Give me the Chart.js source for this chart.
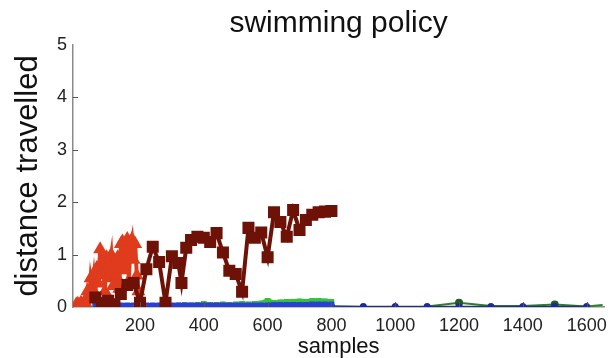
<!DOCTYPE html>
<html>
<head>
<meta charset="utf-8">
<script src="https://cdn.jsdelivr.net/npm/chart.js@4.4.1/dist/chart.umd.min.js"></script>
<style>
  html, body { margin: 0; padding: 0; background: #fff; }
  #wrap { width: 615px; height: 358px; }
</style>
</head>
<body>
<div id="wrap"><canvas id="c" width="615" height="358"></canvas></div>
<script>
// ---- data ----
const xTickValues = [200, 400, 600, 800, 1000, 1200, 1400, 1600];
const yTickValues = [0, 1, 2, 3, 4, 5];

const darkRedSamples = [60, 80, 100, 120, 140, 160, 180, 200, 220, 240, 260, 280, 300, 320, 330, 345, 360, 380, 400, 420, 440, 460, 480, 500, 520, 540, 560, 580, 600, 620, 640, 660, 680, 700, 720, 740, 760, 780, 800];
const darkRedValues  = [0.18, 0.07, 0.12, 0.05, 0.25, 0.42, 0.46, 0.08, 0.72, 1.15, 0.86, 0.08, 0.97, 0.84, 0.46, 1.13, 1.28, 1.34, 1.32, 1.24, 1.41, 1.04, 0.69, 0.63, 0.29, 1.51, 1.32, 1.42, 0.95, 1.81, 1.62, 1.34, 1.85, 1.47, 1.66, 1.76, 1.81, 1.82, 1.83];

const redSamples = [0, 5, 10, 15, 20, 25, 30, 35, 40, 45, 50, 55, 60, 65, 70, 75, 80, 85, 90, 95, 100, 105, 110, 115, 120, 125, 130, 135, 140, 145, 150, 155, 160, 165, 170, 175, 180, 185, 190, 195, 200];
const redValues    = [0.05, 0.06, 0.04, 0.08, 0.05, 0.10, 0.07, 0.30, 0.15, 0.55, 0.35, 0.60, 0.25, 0.75, 0.45, 1.10, 0.60, 0.90, 0.30, 0.95, 0.55, 0.80, 1.00, 0.40, 0.85, 0.60, 0.95, 0.35, 1.20, 1.25, 0.70, 1.05, 1.30, 0.50, 1.15, 1.30, 0.90, 1.20, 0.60, 0.30, 0.10];

const blueSamples = [60, 80, 100, 120, 140, 160, 180, 200, 220, 240, 260, 280, 300, 320, 340, 360, 380, 400, 420, 440, 460, 480, 500, 520, 540, 560, 580, 600, 620, 640, 660, 680, 700, 720, 740, 760, 780, 800];
const blueValues   = [0.03, 0.03, 0.03, 0.03, 0.03, 0.03, 0.03, 0.03, 0.03, 0.03, 0.03, 0.03, 0.03, 0.03, 0.03, 0.03, 0.03, 0.03, 0.03, 0.03, 0.03, 0.03, 0.03, 0.03, 0.03, 0.03, 0.03, 0.03, 0.04, 0.04, 0.04, 0.04, 0.04, 0.04, 0.05, 0.05, 0.05, 0.05];

const greenSamples = [60, 80, 100, 120, 140, 160, 180, 200, 220, 240, 260, 280, 300, 320, 340, 360, 380, 400, 420, 440, 460, 480, 500, 520, 540, 560, 580, 600, 620, 640, 660, 680, 700, 720, 740, 760, 780, 800];
const greenValues  = [0.02, 0.02, 0.02, 0.02, 0.02, 0.02, 0.02, 0.02, 0.02, 0.02, 0.02, 0.02, 0.02, 0.03, 0.04, 0.03, 0.04, 0.06, 0.04, 0.04, 0.05, 0.04, 0.05, 0.06, 0.05, 0.06, 0.07, 0.12, 0.08, 0.09, 0.10, 0.10, 0.11, 0.10, 0.12, 0.12, 0.11, 0.10];

const navySamples = [800, 900, 1000, 1100, 1200, 1300, 1400, 1500, 1600];
const navyValues  = [0.02, 0.01, 0.01, 0.01, 0.01, 0.01, 0.01, 0.01, 0.01];

const darkGreenSamples = [1100, 1200, 1300, 1400, 1500, 1600, 1650];
const darkGreenValues  = [0.01, 0.08, 0.02, 0.02, 0.05, 0.01, 0.04];

function pts(xs, ys) { return xs.map((x, i) => ({ x: x, y: ys[i] })); }

const FONT = "'Liberation Sans', Arial, Helvetica, sans-serif";

const innerTicks = {
  id: 'innerTicks',
  afterLayout(chart) {
    // centre the title over the plot area, as in the reference
    const a = chart.chartArea;
    if (chart.titleBlock) { chart.titleBlock.left = a.left; chart.titleBlock.right = a.right; }
  },
  afterDraw(chart) {
    const ctx = chart.ctx, xs = chart.scales.x, ys = chart.scales.y;
    const a = chart.chartArea;
    ctx.save();
    ctx.strokeStyle = '#555';
    ctx.lineWidth = 1;
    ctx.beginPath();
    xTickValues.forEach(v => {
      const px = Math.round(xs.getPixelForValue(v)) + 0.5;
      ctx.moveTo(px, a.bottom); ctx.lineTo(px, a.bottom - 5);
    });
    yTickValues.slice(1, -1).forEach(v => {
      const py = Math.round(ys.getPixelForValue(v)) + 0.5;
      ctx.moveTo(a.left, py); ctx.lineTo(a.left + 5, py);
    });
    ctx.stroke();
    ctx.restore();
  }
};

new Chart(document.getElementById('c'), {
  type: 'line',
  data: {
    datasets: [
      { label: 'a', data: pts(darkRedSamples, darkRedValues), borderColor: '#6e1208', backgroundColor: '#6e1208',
        borderWidth: 4, pointStyle: 'rect', pointRadius: 8.5, pointBorderWidth: 0, tension: 0 },
      { label: 'b', data: pts(redSamples, redValues), borderColor: '#df3b1d', backgroundColor: '#df3b1d',
        borderWidth: 4, pointStyle: 'triangle', pointRadius: 8, pointBorderWidth: 0, tension: 0 },
      { label: 'c', data: pts(blueSamples, blueValues), borderColor: '#2a3fd8', backgroundColor: '#2a3fd8',
        borderWidth: 5, pointStyle: 'rect', pointRadius: 4, pointBorderWidth: 0, tension: 0 },
      { label: 'd', data: pts(greenSamples, greenValues), borderColor: '#33c23a', backgroundColor: '#33c23a',
        borderWidth: 5, pointStyle: 'rect', pointRadius: 4, pointBorderWidth: 0, tension: 0 },
      { label: 'e', data: pts(navySamples, navyValues), borderColor: '#26307a', backgroundColor: '#1b2a9a',
        borderWidth: 1.5, pointStyle: 'circle', pointRadius: 3.5, pointBorderWidth: 0, tension: 0 },
      { label: 'f', data: pts(darkGreenSamples, darkGreenValues), borderColor: '#2f7d2f', backgroundColor: '#1f5e1f',
        borderWidth: 2, pointStyle: 'circle', pointRadius: [0, 4, 0, 0, 4, 0, 0], pointBorderWidth: 0, tension: 0 }
    ]
  },
  options: {
    responsive: false,
    animation: false,
    events: [],
    layout: { padding: { left: 0, right: 10, top: 0, bottom: 0 } },
    plugins: {
      legend: { display: false },
      tooltip: { enabled: false },
      title: {
        display: true, text: 'swimming policy', color: '#111',
        font: { family: FONT, size: 30, weight: 'normal', lineHeight: 1.2 },
        padding: { top: 6, bottom: 3 }
      }
    },
    scales: {
      x: {
        type: 'linear', min: -10, max: 1655,
        afterBuildTicks(scale) { scale.ticks = xTickValues.map(v => ({ value: v })); },
        afterFit(scale) { scale.height = 51; },
        grid: { display: false, drawTicks: false },
        border: { display: true, color: '#8a8a8a', width: 1.5 },
        ticks: { color: '#222', font: { family: FONT, size: 18 }, padding: 8, maxRotation: 0, autoSkip: false,
                 callback: v => String(v) },
        title: { display: true, text: 'samples', color: '#111', font: { family: FONT, size: 22, lineHeight: 1.1 }, padding: { top: -8, bottom: -1 } }
      },
      y: {
        type: 'linear', min: 0, max: 5,
        afterBuildTicks(scale) { scale.ticks = yTickValues.map(v => ({ value: v })); },
        afterFit(scale) { scale.width = 73; },
        grid: { display: false, drawTicks: false },
        border: { display: true, color: '#8a8a8a', width: 1.5 },
        ticks: { color: '#222', font: { family: FONT, size: 18 }, padding: 6, callback: v => String(v) },
        title: { display: true, text: 'distance travelled', color: '#111', font: { family: FONT, size: 31 }, padding: { top: 10, bottom: 0 } }
      }
    }
  },
  plugins: [innerTicks]
});
</script>
</body>
</html>
